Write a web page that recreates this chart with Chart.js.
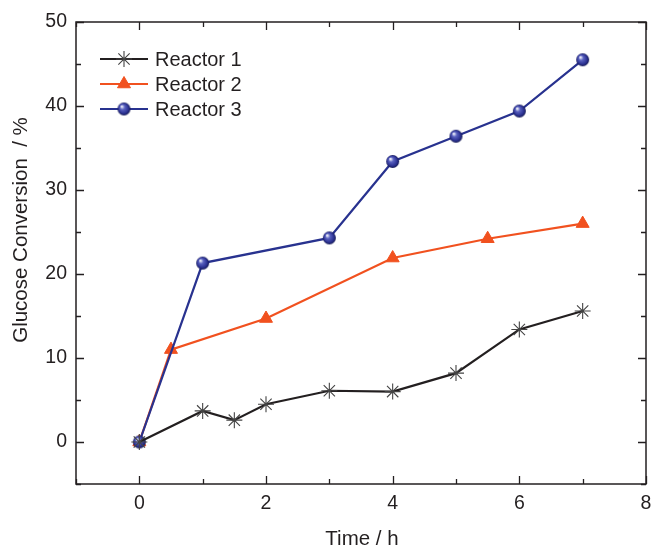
<!DOCTYPE html>
<html>
<head>
<meta charset="utf-8">
<script src="https://cdn.jsdelivr.net/npm/chart.js@4.4.1/dist/chart.umd.min.js"></script>
<style>
  html, body { margin: 0; padding: 0; background: #fff; overflow: hidden; }
  #wrap { width: 652px; height: 547px; position: relative; }
</style>
</head>
<body>
<div id="wrap"><canvas id="chart"></canvas></div>
<script>
// ---- data ----
const reactor1Time = [0, 1, 1.5, 2, 3, 4, 5, 6, 7];
const reactor1Conv = [0, 3.7, 2.6, 4.5, 6.1, 6.0, 8.2, 13.4, 15.6];

const reactor2Time = [0, 0.5, 2, 4, 5.5, 7];
const reactor2Conv = [0, 11.0, 14.7, 21.9, 24.2, 26.0];

const reactor3Time = [0, 1, 3, 4, 5, 6, 7];
const reactor3Conv = [0, 21.3, 24.3, 33.4, 36.4, 39.4, 45.5];

const seriesNames = ['Reactor 1', 'Reactor 2', 'Reactor 3'];
const xTicks = [0, 2, 4, 6, 8];
const yTicks = [0, 10, 20, 30, 40, 50];

const FONT = '"Liberation Sans", Arial, Helvetica, sans-serif';
const BLACK = '#231F20';
const ORANGE = '#F1511F';
const BLUE = '#28328F';

function pts(xs, ys) {
  return xs.map((x, i) => ({ x: x, y: ys[i] }));
}

// shaded sphere marker for Reactor 3
function sphere(r) {
  const c = document.createElement('canvas');
  const s = r * 2 + 2;
  c.width = s; c.height = s;
  const g = c.getContext('2d');
  const cx = s / 2, cy = s / 2;
  const grad = g.createRadialGradient(cx - r * 0.35, cy - r * 0.4, r * 0.1, cx, cy, r);
  grad.addColorStop(0, '#E8EAF8');
  grad.addColorStop(0.3, '#5A62C0');
  grad.addColorStop(0.75, '#2B3192');
  grad.addColorStop(1, '#141850');
  g.fillStyle = grad;
  g.beginPath();
  g.arc(cx, cy, r, 0, Math.PI * 2);
  g.fill();
  return c;
}
const sphereImg = sphere(6.5);

// frame, inward ticks, legend and axis titles
const framePlugin = {
  id: 'frame',
  afterDatasetsDraw(chart) {
    const { ctx, chartArea: a, scales } = chart;
    const xs = scales.x, ys = scales.y;
    ctx.save();
    ctx.strokeStyle = BLACK;
    ctx.lineWidth = 1.5;
    ctx.strokeRect(a.left, a.top, a.right - a.left, a.bottom - a.top);

    ctx.lineWidth = 1.3;
    ctx.beginPath();
    for (let v = -1; v <= 8; v += 1) {
      const px = Math.round(xs.getPixelForValue(v)) + 0.5;
      const len = (v % 2 === 0) ? 8 : 5;
      ctx.moveTo(px, a.bottom); ctx.lineTo(px, a.bottom - len);
      ctx.moveTo(px, a.top); ctx.lineTo(px, a.top + len);
    }
    for (let v = -5; v <= 50; v += 5) {
      const py = Math.round(ys.getPixelForValue(v)) + 0.5;
      const len = (v % 10 === 0) ? 8 : 5;
      ctx.moveTo(a.left, py); ctx.lineTo(a.left + len, py);
      ctx.moveTo(a.right, py); ctx.lineTo(a.right - len, py);
    }
    ctx.stroke();

    // legend
    ctx.font = '20px ' + FONT;
    ctx.textBaseline = 'middle';
    ctx.textAlign = 'left';
    const rows = [59, 84, 109];
    chart.data.datasets.forEach((ds, i) => {
      const y = rows[i];
      ctx.strokeStyle = ds.borderColor;
      ctx.lineWidth = ds.borderWidth;
      ctx.beginPath();
      ctx.moveTo(100, y); ctx.lineTo(148, y);
      ctx.stroke();
      ctx.strokeStyle = ds.pointBorderColor || ds.borderColor;
      ctx.fillStyle = ds.pointBackgroundColor || ds.borderColor;
      ctx.lineWidth = ds.pointBorderWidth || 1;
      Chart.helpers.drawPoint(ctx, {
        pointStyle: ds.pointStyle,
        radius: ds.pointRadius,
        borderWidth: ds.pointBorderWidth,
        rotation: 0
      }, 124, y);
      ctx.fillStyle = BLACK;
      ctx.fillText(ds.label, 155, y + 1);
    });

    // axis titles
    ctx.fillStyle = BLACK;
    ctx.font = '20.5px ' + FONT;
    ctx.textAlign = 'center';
    ctx.textBaseline = 'alphabetic';
    ctx.fillText('Time / h', 362, 545);
    ctx.translate(27, 230);
    ctx.rotate(-Math.PI / 2);
    ctx.fillText('Glucose Conversion  / %', 0, 0);
    ctx.restore();
  }
};

new Chart(document.getElementById('chart'), {
  type: 'scatter',
  data: {
    datasets: [
      {
        label: seriesNames[0],
        data: pts(reactor1Time, reactor1Conv),
        showLine: true,
        borderColor: BLACK,
        borderWidth: 2.2,
        pointStyle: 'star',
        pointRadius: 8,
        pointBorderWidth: 1.1,
        pointBorderColor: '#444',
        pointBackgroundColor: '#444',
        order: 0
      },
      {
        label: seriesNames[1],
        data: pts(reactor2Time, reactor2Conv),
        showLine: true,
        borderColor: ORANGE,
        borderWidth: 2.2,
        pointStyle: 'triangle',
        pointRadius: 7.5,
        pointBorderWidth: 1,
        pointBorderColor: ORANGE,
        pointBackgroundColor: ORANGE,
        order: 2
      },
      {
        label: seriesNames[2],
        data: pts(reactor3Time, reactor3Conv),
        showLine: true,
        borderColor: BLUE,
        borderWidth: 2.2,
        pointStyle: sphereImg,
        pointRadius: 6.5,
        pointBorderWidth: 0,
        order: 1
      }
    ]
  },
  options: {
    responsive: true,
    maintainAspectRatio: false,
    animation: false,
    devicePixelRatio: 1,
    layout: { padding: { left: 0, top: 22, right: 0, bottom: 0 } },
    plugins: {
      legend: { display: false },
      tooltip: { enabled: false }
    },
    scales: {
      x: {
        type: 'linear',
        min: -1, max: 8,
        afterBuildTicks: (s) => { s.ticks = xTicks.map(v => ({ value: v })); },
        afterFit: (s) => { s.height = 63; s.paddingLeft = 0; s.paddingRight = 0; },
        grid: { display: false, drawTicks: false },
        border: { display: false },
        ticks: { color: BLACK, font: { family: FONT, size: 19.5 }, padding: 8, maxRotation: 0 }
      },
      y: {
        type: 'linear',
        min: -5, max: 50,
        afterBuildTicks: (s) => { s.ticks = yTicks.map(v => ({ value: v })); },
        afterFit: (s) => { s.width = 76; s.paddingTop = 0; s.paddingBottom = 0; },
        grid: { display: false, drawTicks: false },
        border: { display: false },
        ticks: { color: BLACK, font: { family: FONT, size: 19.5 }, padding: 9 }
      }
    }
  },
  plugins: [framePlugin, {
    // pull the plot's right edge out to where the reference has it
    id: 'rightEdge',
    afterLayout(chart) {
      const target = 646;
      const a = chart.chartArea;
      if (Math.abs(a.right - target) < 0.5) return;
      a.right = target;
      a.width = a.right - a.left;
      const xs = chart.scales.x;
      xs.right = target;
      xs.width = xs.right - xs.left;
      xs.configure();
    }
  }]
});
</script>
</body>
</html>
